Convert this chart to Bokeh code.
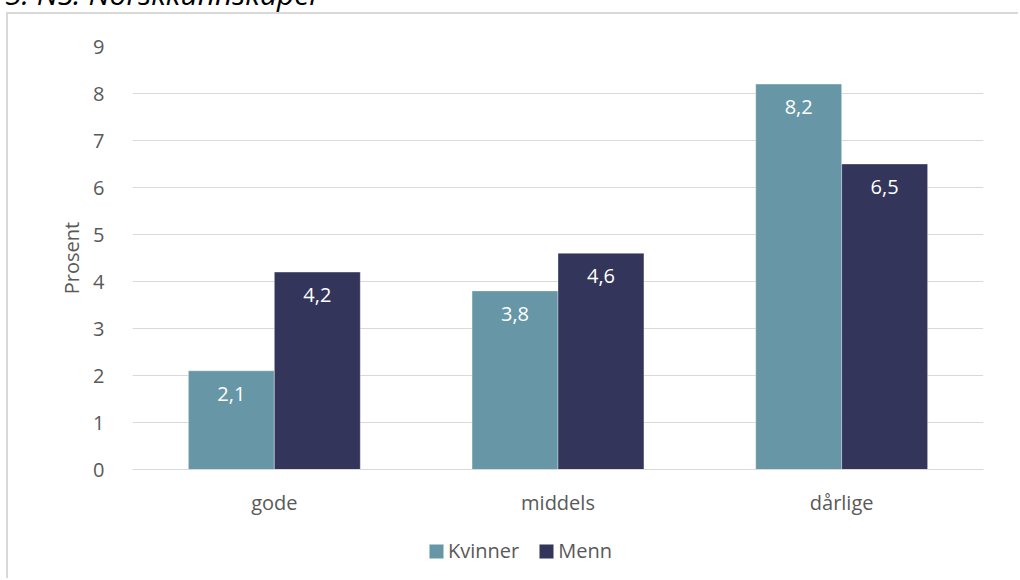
from bokeh.plotting import figure
from bokeh.models import (ColumnDataSource, FactorRange, Range1d, Legend, LegendItem,
                          FixedTicker, Div)
from bokeh.layouts import column
from bokeh.transform import dodge
from bokeh.core.properties import value
from bokeh.embed import file_html
from bokeh.resources import INLINE

categories = ["gode", "middels", "dårlige"]
kvinner = [2.1, 3.8, 8.2]
menn = [4.2, 4.6, 6.5]
series_names = ["Kvinner", "Menn"]
y_ticks = [0, 1, 2, 3, 4, 5, 6, 7, 8, 9]
title_text = "5. NS. Norskkunnskaper"
y_label = "Prosent"

FONT = "Open Sans"
GREY_TXT = "#595959"
GRID = "#d9d9d9"
C_K = "#6797A7"
C_M = "#33355A"
BORDER = "2px solid #d9d9d9"

def fmt(v):
    return f"{v:.1f}".replace(".", ",")

source = ColumnDataSource(dict(
    cat=categories, kvinner=kvinner, menn=menn,
    kl=[fmt(v) for v in kvinner], ml=[fmt(v) for v in menn],
))

# ---- main chart ----
p = figure(x_range=FactorRange(*categories), y_range=Range1d(0, 9),
           width=1012, height=515, output_backend="svg", toolbar_location=None,
           min_border_left=124, min_border_right=37, min_border_top=32,
           min_border_bottom=60)
p.styles = {"margin-left": "6px", "margin-top": "-10px",
            "border-left": BORDER, "border-top": BORDER}
p.x_range.range_padding = 0
p.outline_line_color = None

bw = 0.303
off = bw / 2
r1 = p.vbar(x=dodge("cat", -off, range=p.x_range), top="kvinner", width=bw,
            source=source, fill_color=C_K, line_color="white", line_alpha=0.35)
r2 = p.vbar(x=dodge("cat", off, range=p.x_range), top="menn", width=bw,
            source=source, fill_color=C_M, line_color="white", line_alpha=0.35)

for col, lab, d in (("kvinner", "kl", -off), ("menn", "ml", off)):
    p.text(x=dodge("cat", d, range=p.x_range), y=col, text=lab, source=source,
           y_offset=23, text_align="center", text_baseline="middle",
           text_color="white", text_font=value(FONT), text_font_size="20px")

p.yaxis.ticker = FixedTicker(ticks=y_ticks)
p.yaxis.axis_line_color = None
p.yaxis.major_tick_line_color = None
p.yaxis.minor_tick_line_color = None
p.yaxis.major_label_standoff = 22
p.yaxis.major_label_text_font = FONT
p.yaxis.major_label_text_font_size = "20px"
p.yaxis.major_label_text_color = GREY_TXT
p.yaxis.axis_label = y_label
p.yaxis.axis_label_standoff = 5
p.yaxis.axis_label_text_font = FONT
p.yaxis.axis_label_text_font_size = "20px"
p.yaxis.axis_label_text_font_style = "normal"
p.yaxis.axis_label_text_color = GREY_TXT

p.xaxis.axis_line_color = GRID
p.xaxis.major_tick_line_color = None
p.xaxis.minor_tick_line_color = None
p.xaxis.major_label_standoff = 13
p.xaxis.major_label_text_font = FONT
p.xaxis.major_label_text_font_size = "20px"
p.xaxis.major_label_text_color = GREY_TXT

p.xgrid.grid_line_color = None
p.ygrid.grid_line_color = GRID
p.ygrid.grid_line_width = 1

# ---- legend strip (swatch renderers sit outside its visible range) ----
pl = figure(x_range=Range1d(0, 1), y_range=Range1d(0, 1), width=1012, height=51,
            output_backend="svg", toolbar_location=None,
            x_axis_location=None, y_axis_location=None,
            min_border_left=0, min_border_right=0, min_border_top=0,
            min_border_bottom=0)
pl.styles = {"margin-left": "6px", "border-left": BORDER}
pl.outline_line_color = None
pl.xgrid.grid_line_color = None
pl.ygrid.grid_line_color = None
swatch_src = ColumnDataSource(dict(x=[-5], top=[0]))
e1 = pl.vbar(x="x", top="top", width=0.1, source=swatch_src,
             fill_color=C_K, line_color="white", line_alpha=0.35)
e2 = pl.vbar(x="x", top="top", width=0.1, source=swatch_src,
             fill_color=C_M, line_color="white", line_alpha=0.35)
legend = Legend(items=[LegendItem(label=series_names[0], renderers=[e1]),
                       LegendItem(label=series_names[1], renderers=[e2])],
                orientation="horizontal", location=(295, 14),
                glyph_width=18, glyph_height=18, label_standoff=3, spacing=18,
                padding=0, margin=0, border_line_color=None,
                background_fill_alpha=0, label_text_font=FONT,
                label_text_font_size="20px", label_text_color=GREY_TXT)
pl.add_layout(legend)

# ---- title (mostly outside the window, as in the reference) ----
div = Div(text=f'<span style="position:relative; top:-26px; white-space:nowrap; '
               f'font-family:\'Open Sans\'; font-style:italic; font-size:30px; '
               f'line-height:30px; color:black;">{title_text}</span>',
          width=1020, height=12, styles={"overflow": "visible"})

layout = column(div, p, pl, spacing=0)
open("out.html", "w").write(file_html(layout, INLINE))
